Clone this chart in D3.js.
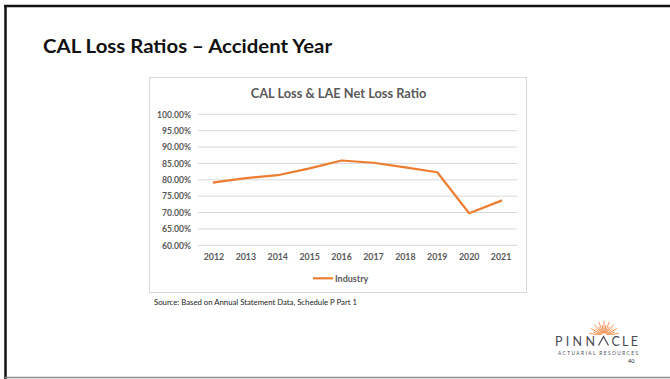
<!DOCTYPE html>
<html>
<head>
<meta charset="utf-8">
<script src="https://cdn.jsdelivr.net/npm/d3@7"></script>
<style>
  html, body { margin: 0; padding: 0; background: #fff; }
  svg { display: block; font-family: Lato, "Open Sans", sans-serif; }
</style>
</head>
<body>
<svg id="slide" width="670" height="379"></svg>
<script>
// Accident years and CAL Loss & LAE net loss ratios (percent)
const years = ["2012", "2013", "2014", "2015", "2016", "2017", "2018", "2019", "2020", "2021"];
const industry = [79.2, 80.5, 81.4, 83.5, 85.9, 85.2, 83.8, 82.3, 69.8, 73.6];
const yTicks = [60, 65, 70, 75, 80, 85, 90, 95, 100];
const seriesName = "Industry";

const svg = d3.select("#slide");
const grey = "#595959";
const orange = "#ED7D31";
const font = "Lato, 'Open Sans', sans-serif";

// Slide frame
svg.append("line").attr("x1", 4).attr("x2", 670).attr("y1", 6).attr("y2", 6)
  .attr("stroke", "#111").attr("stroke-width", 2.5);
svg.append("line").attr("x1", 5.5).attr("x2", 5.5).attr("y1", 5).attr("y2", 379)
  .attr("stroke", "#111").attr("stroke-width", 2.5);
svg.append("line").attr("x1", 5).attr("x2", 670).attr("y1", 377.5).attr("y2", 377.5)
  .attr("stroke", "#8c8c8c").attr("stroke-width", 1.5);

// Slide heading
svg.append("text").attr("x", 43).attr("y", 52.5)
  .attr("font-size", 19.5).attr("font-weight", 700).attr("fill", "#111")
  .attr("textLength", 289).attr("lengthAdjust", "spacingAndGlyphs")
  .text("CAL Loss Ratios \u2013 Accident Year");

// Chart area box
svg.append("rect").attr("x", 149.5).attr("y", 77.5).attr("width", 377).attr("height", 215)
  .attr("fill", "#fff").attr("stroke", "#d9d9d9").attr("stroke-width", 1);

svg.append("text").attr("x", 338.5).attr("y", 98).attr("text-anchor", "middle")
  .attr("font-size", 12.8).attr("font-weight", 700).attr("fill", grey)
  .text("CAL Loss & LAE Net Loss Ratio");

const plot = { left: 198, right: 517, top: 114.3, bottom: 245.3 };

const x = d3.scaleBand().domain(years).range([plot.left, plot.right]);
const y = d3.scaleLinear().domain([60, 100]).range([plot.bottom, plot.top]);

// Gridlines
svg.append("g")
  .selectAll("line").data(yTicks).join("line")
  .attr("x1", plot.left).attr("x2", plot.right)
  .attr("y1", d => y(d)).attr("y2", d => y(d))
  .attr("stroke", "#d9d9d9").attr("stroke-width", 1);

// Y axis labels
const yAxis = svg.append("g").attr("transform", `translate(${plot.left - 7},0)`)
  .call(d3.axisLeft(y).tickValues(yTicks).tickSize(0).tickPadding(0)
    .tickFormat(d => d3.format(".2f")(d) + "%"));
yAxis.select(".domain").remove();
yAxis.selectAll("text").attr("font-size", 8.6).attr("font-weight", 700).attr("fill", grey)
  .attr("font-family", font);

// X axis labels
const xAxis = svg.append("g").attr("transform", `translate(0,${plot.bottom + 8})`)
  .call(d3.axisBottom(x).tickSize(0).tickPadding(0));
xAxis.select(".domain").remove();
xAxis.selectAll("text").attr("font-size", 8.8).attr("font-weight", 700).attr("fill", grey)
  .attr("font-family", font);

// Industry line
const line = d3.line()
  .x((d, i) => x(years[i]) + x.bandwidth() / 2)
  .y(d => y(d));
svg.append("path").datum(industry)
  .attr("d", line)
  .attr("fill", "none").attr("stroke", orange).attr("stroke-width", 2.2)
  .attr("stroke-linejoin", "round").attr("stroke-linecap", "square");

// Legend
svg.append("line").attr("x1", 313).attr("x2", 333).attr("y1", 278.3).attr("y2", 278.3)
  .attr("stroke", orange).attr("stroke-width", 2.2);
svg.append("text").attr("x", 335).attr("y", 281.5)
  .attr("font-size", 9).attr("font-weight", 700).attr("fill", grey)
  .text(seriesName);

// Source note
svg.append("text").attr("x", 154).attr("y", 304.5)
  .attr("font-size", 7.5).attr("fill", "#222")
  .attr("textLength", 203).attr("lengthAdjust", "spacingAndGlyphs")
  .text("Source: Based on Annual Statement Data, Schedule P Part 1");

// Company logo
const logo = svg.append("g");
const sun = logo.append("g").attr("transform", "translate(604,336)");
d3.range(-80, 81, 10).forEach(a => {
  const r = a * Math.PI / 180;
  const len = Math.abs(a) % 20 === 0 ? 15 : 11;
  sun.append("line")
    .attr("x1", Math.sin(r) * 3).attr("y1", -Math.cos(r) * 3)
    .attr("x2", Math.sin(r) * len).attr("y2", -Math.cos(r) * len)
    .attr("stroke", "#F07A2E").attr("stroke-width", 0.8);
});
sun.append("rect").attr("x", -16).attr("y", -1).attr("width", 32).attr("height", 4).attr("fill", "#fff");

logo.append("text").attr("x", 555).attr("y", 345.5)
  .attr("font-size", 12.5).attr("fill", "#4a4a55")
  .attr("textLength", 40).attr("lengthAdjust", "spacing")
  .text("PINN");
logo.append("path").attr("d", "M598.5,345.5 L603.5,336.5 L608.5,345.5")
  .attr("fill", "none").attr("stroke", "#4a4a55").attr("stroke-width", 1.2);
logo.append("text").attr("x", 611.5).attr("y", 345.5)
  .attr("font-size", 12.5).attr("fill", "#4a4a55")
  .attr("textLength", 26.5).attr("lengthAdjust", "spacing")
  .text("CLE");
logo.append("text").attr("x", 558).attr("y", 354.5)
  .attr("font-size", 4.8).attr("fill", "#4a4a55")
  .attr("textLength", 80).attr("lengthAdjust", "spacing")
  .text("ACTUARIAL RESOURCES");
logo.append("text").attr("x", 628).attr("y", 362.5)
  .attr("font-size", 5.5).attr("fill", "#222")
  .text("40");
</script>
</body>
</html>
